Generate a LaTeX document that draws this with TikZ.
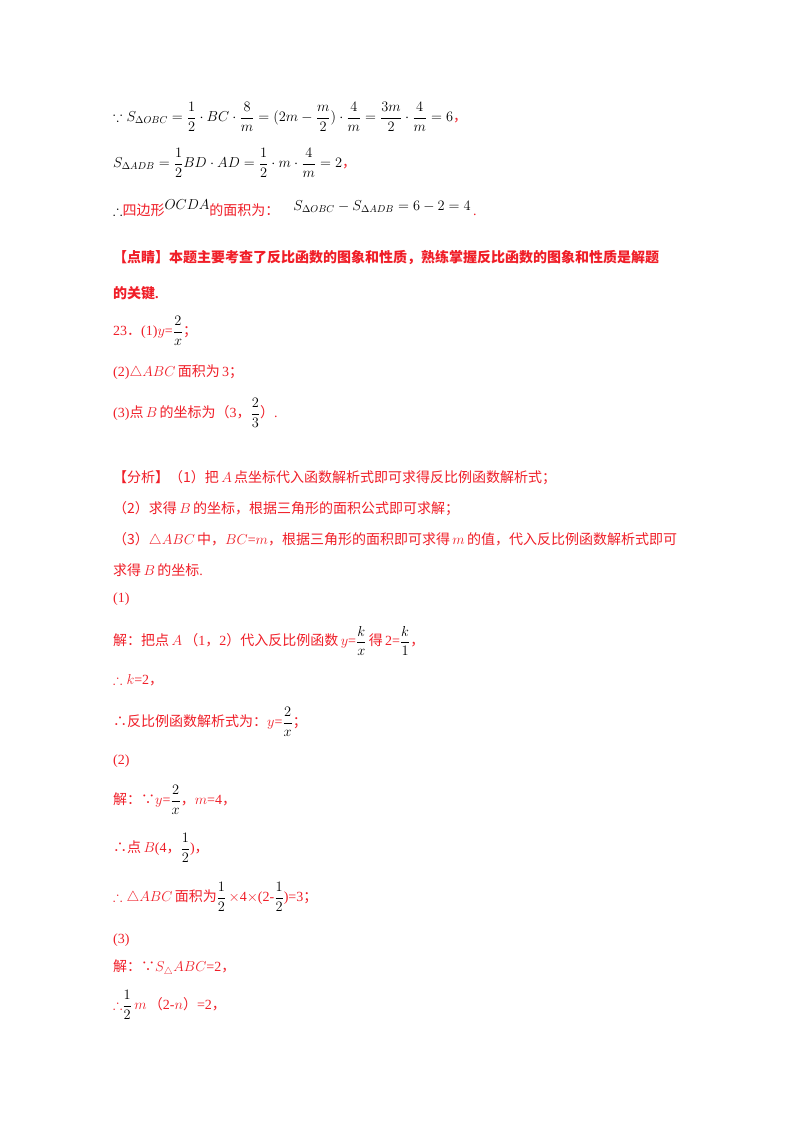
\documentclass[tikz,border=0pt]{standalone}
\usepackage{amssymb}
\usepackage{fontspec}
\setmainfont{Liberation Serif}
\newfontfamily\cjk{Noto Sans CJK SC}
\newcommand{\zh}[1]{{\cjk #1}}
\definecolor{rd}{RGB}{240,30,40}
\begin{document}
\begin{tikzpicture}[x=1pt,y=1pt,
  ln/.style={anchor=west,inner sep=0pt,font=\fontsize{14}{16}\selectfont}]
\useasboundingbox (0,0) rectangle (800,-1132);
\fill[white] (0,0) rectangle (800,-1132);
\node[ln] (l1) at (113,-117) {$\displaystyle\because S_{\Delta OBC}=\frac12\cdot BC\cdot\frac{8}{m}=(2m-\frac{m}{2})\cdot\frac{4}{m}=\frac{3m}{2}\cdot\frac{4}{m}=6$\textcolor{rd}{\zh{，}}};
\node[ln] (l2) at (113,-163) {$\displaystyle S_{\Delta ADB}=\frac12 BD\cdot AD=\frac12\cdot m\cdot\frac{4}{m}=2$\textcolor{rd}{\zh{，}}};
\node[ln] (l3) at (113,-208) {$\therefore$\textcolor{rd}{\zh{四边形}}\raisebox{6pt}{$OCDA$}\textcolor{rd}{\zh{的面积为：}}\quad\raisebox{5pt}{$S_{\Delta OBC}-S_{\Delta ADB}=6-2=4$}\textcolor{rd}{\,.}};
\node[ln,text=rd] (l4) at (113,-257) {\zh{\bfseries 【点睛】本题主要考查了反比函数的图象和性质，熟练掌握反比函数的图象和性质是解题}};
\node[ln,text=rd] (l5) at (113,-293) {\zh{\bfseries 的关键}\textbf{.}};
\node[ln,text=rd] (l6) at (113,-331) {23\zh{．}(1)$y$=\textcolor{black}{$\displaystyle\frac{2}{x}$}\zh{；}};
\node[ln,text=rd] (l7) at (113,-372) {(2)$\triangle ABC$\,\zh{面积为}\,3\zh{；}};
\node[ln,text=rd] (l8) at (113,-413) {(3)\zh{点}\,$B$\,\zh{的坐标为（}3\zh{，}\textcolor{black}{$\displaystyle\frac{2}{3}$}\zh{）}.};
\node[ln,text=rd] (l9) at (113,-478) {\zh{【分析】（1）把}\,$A$\,\zh{点坐标代入函数解析式即可求得反比例函数解析式；}};
\node[ln,text=rd] (l10) at (113,-509) {\zh{（2）求得}\,$B$\,\zh{的坐标，根据三角形的面积公式即可求解；}};
\node[ln,text=rd] (l11) at (113,-540) {\zh{（3）}$\triangle ABC$\,\zh{中，}$BC$=$m$\zh{，根据三角形的面积即可求得}\,$m$\,\zh{的值，代入反比例函数解析式即可}};
\node[ln,text=rd] (l12) at (113,-570) {\zh{求得}\,$B$\,\zh{的坐标}.};
\node[ln,text=rd] (l13) at (113,-599) {(1)};
\node[ln,text=rd] (l14) at (113,-641) {\zh{解：把点}\,$A$\,\zh{（}1\zh{，}2\zh{）代入反比例函数}\,$y$=\textcolor{black}{$\displaystyle\frac{k}{x}$}\,\zh{得}\,2=\textcolor{black}{$\displaystyle\frac{k}{1}$}\zh{，}};
\node[ln,text=rd] (l15) at (113,-680) {$\therefore k$=2\zh{，}};
\node[ln,text=rd] (l16) at (113,-722) {\zh{∴反比例函数解析式为：}$y$=\textcolor{black}{$\displaystyle\frac{2}{x}$}\zh{；}};
\node[ln,text=rd] (l17) at (113,-761) {(2)};
\node[ln,text=rd] (l18) at (113,-800) {\zh{解：∵}$y$=\textcolor{black}{$\displaystyle\frac{2}{x}$}\zh{，}$m$=4\zh{，}};
\node[ln,text=rd] (l19) at (113,-848) {\zh{∴点}\,$B$(4\zh{，}\textcolor{black}{$\displaystyle\frac{1}{2}$})\zh{，}};
\node[ln,text=rd] (l20) at (113,-897) {$\therefore\triangle ABC$\,\zh{面积为}\textcolor{black}{$\displaystyle\frac{1}{2}$}\,$\times$4$\times$(2-\textcolor{black}{$\displaystyle\frac{1}{2}$})=3\zh{；}};
\node[ln,text=rd] (l21) at (113,-940) {(3)};
\node[ln,text=rd] (l22) at (113,-968) {\zh{解：∵}$S_{\triangle}ABC$=2\zh{，}};
\node[ln,text=rd] (l23) at (113,-1005) {$\therefore$\textcolor{black}{$\displaystyle\frac{1}{2}$}\,$m$\,\zh{（}2-$n$\zh{）}=2\zh{，}};
\end{tikzpicture}
\end{document}
